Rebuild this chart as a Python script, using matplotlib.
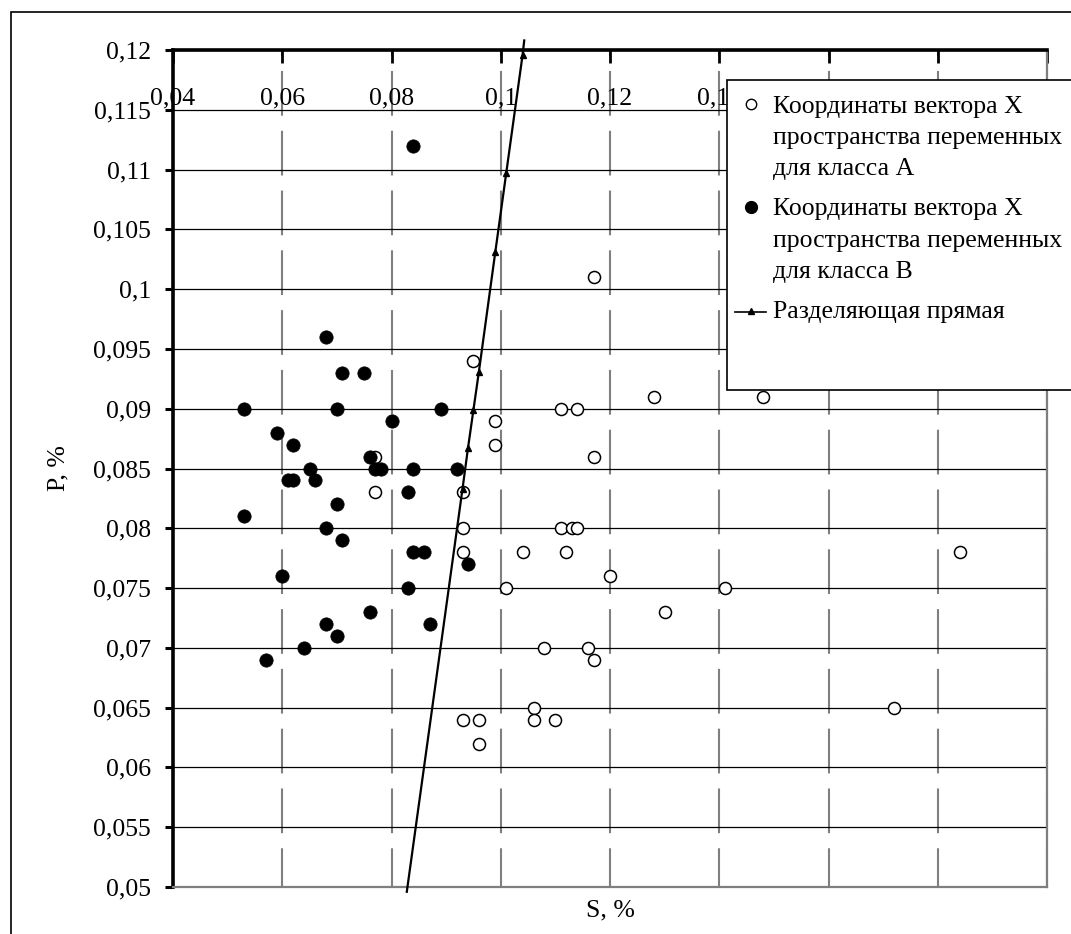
"""Scatter of class A / class B feature vectors with the separating line."""

import matplotlib
import numpy as np

matplotlib.use("Agg")
import matplotlib.pyplot as plt
from matplotlib.lines import Line2D
from matplotlib.patches import Rectangle
from matplotlib.ticker import FuncFormatter

plt.rcParams["font.family"] = ["Liberation Serif", "DejaVu Serif"]
plt.rcParams["lines.scale_dashes"] = False

# class A (open circles): S, %  /  P, %
class_a_s = [0.117, 0.095, 0.099, 0.099, 0.111, 0.114, 0.117, 0.128, 0.148,
             0.077, 0.077, 0.093, 0.093, 0.111, 0.113, 0.114, 0.093, 0.104,
             0.112, 0.120, 0.101, 0.141, 0.130, 0.108, 0.116, 0.117, 0.106,
             0.093, 0.096, 0.106, 0.110, 0.096, 0.184, 0.172]
class_a_p = [0.101, 0.094, 0.089, 0.087, 0.090, 0.090, 0.086, 0.091, 0.091,
             0.086, 0.083, 0.083, 0.080, 0.080, 0.080, 0.080, 0.078, 0.078,
             0.078, 0.076, 0.075, 0.075, 0.073, 0.070, 0.070, 0.069, 0.065,
             0.064, 0.064, 0.064, 0.064, 0.062, 0.078, 0.065]

# class B (filled circles)
class_b_s = [0.084, 0.068, 0.071, 0.075, 0.053, 0.070, 0.089, 0.080, 0.059,
             0.062, 0.076, 0.065, 0.077, 0.078, 0.084, 0.092, 0.061, 0.062,
             0.066, 0.083, 0.070, 0.053, 0.068, 0.071, 0.060, 0.084, 0.086,
             0.094, 0.083, 0.076, 0.068, 0.087, 0.070, 0.064, 0.057]
class_b_p = [0.112, 0.096, 0.093, 0.093, 0.090, 0.090, 0.090, 0.089, 0.088,
             0.087, 0.086, 0.085, 0.085, 0.085, 0.085, 0.085, 0.084, 0.084,
             0.084, 0.083, 0.082, 0.081, 0.080, 0.079, 0.076, 0.078, 0.078,
             0.077, 0.075, 0.073, 0.072, 0.072, 0.071, 0.070, 0.069]

# separating line (end points carry no marker)
line_s = [0.0828, 0.093, 0.094, 0.095, 0.096, 0.099, 0.101, 0.104, 0.1043]
line_p = [0.0496, 0.0833, 0.0867, 0.0899, 0.0931, 0.1031, 0.1097, 0.1196, 0.1208]

x_ticks = [0.04, 0.06, 0.08, 0.10, 0.12, 0.14, 0.16, 0.18, 0.20]
y_ticks = [0.05, 0.055, 0.06, 0.065, 0.07, 0.075, 0.08, 0.085, 0.09,
           0.095, 0.10, 0.105, 0.11, 0.115, 0.12]

legend_labels = [
    "Координаты вектора X\nпространства переменных\nдля класса А",
    "Координаты вектора X\nпространства переменных\nдля класса В",
    "Разделяющая прямая",
]

W, H = 1071, 934
FS = 18.5


def fx(px):
    return px / W


def fy(py):
    return 1 - py / H


def comma(v, _pos=None):
    return f"{v:g}".replace(".", ",")


fig = plt.figure(figsize=(W / 100, H / 100), dpi=100)
ax = fig.add_axes([fx(173), fy(887), fx(1047) - fx(173), fy(50) - fy(887)])

ax.scatter(class_a_s, class_a_p, s=75, facecolor="white", edgecolor="black",
           linewidth=1.1, zorder=3)
ax.scatter(class_b_s, class_b_p, s=92, facecolor="black", edgecolor="black",
           linewidth=0.5, zorder=3)
ax.plot(line_s, line_p, color="black", lw=1.6, marker="^", markersize=4.5,
        markevery=list(range(1, len(line_s) - 1)), clip_on=False, zorder=4)

ax.set_xlim(0.04, 0.20)
ax.set_ylim(0.05, 0.12)
ax.set_xticks(x_ticks)
ax.set_yticks(y_ticks)
ax.xaxis.set_major_formatter(FuncFormatter(comma))
ax.yaxis.set_major_formatter(FuncFormatter(comma))

ax.tick_params(axis="x", bottom=False, top=True, labelbottom=False, labeltop=True,
               direction="in", length=9, width=2, pad=-42.5, labelsize=FS)
ax.tick_params(axis="y", direction="out", length=6, width=2.2, pad=10, labelsize=FS)

ax.set_axisbelow(True)
ax.yaxis.grid(True, color="black", lw=0.9)
# long-dash vertical grid, one dash per horizontal band
ax.xaxis.grid(True, color="#7f7f7f", lw=1.5, linestyle=(4.3, (32.2, 10.85)))

for side in ("top", "left"):
    ax.spines[side].set_linewidth(2.6)
    ax.spines[side].set_color("black")
for side in ("bottom", "right"):
    ax.spines[side].set_linewidth(1.6)
    ax.spines[side].set_color("#7f7f7f")

ax.set_ylabel("P, %", fontsize=FS)
ax.yaxis.set_label_coords(-0.118, 0.5)
ax.set_xlabel("S, %", fontsize=FS)
ax.xaxis.set_label_coords(0.5, -0.015)

# outer chart frame
fig.add_artist(Rectangle((fx(11), -0.1), 1.2, fy(12) + 0.1, transform=fig.transFigure,
                         fill=False, edgecolor="black", lw=1.2, zorder=1))

# legend box running off the right edge
fig.add_artist(Rectangle((fx(727), fy(390)), 0.5, fy(80) - fy(390),
                         transform=fig.transFigure, facecolor="white",
                         edgecolor="black", lw=1.2, zorder=5))

fig.add_artist(Line2D([fx(751)], [fy(104)], transform=fig.transFigure, marker="o",
                      markersize=7.5, markerfacecolor="white", markeredgecolor="black",
                      markeredgewidth=1.0, linestyle="none", zorder=6))
fig.add_artist(Line2D([fx(751)], [fy(207)], transform=fig.transFigure, marker="o",
                      markersize=8.5, markerfacecolor="black", markeredgecolor="black",
                      linestyle="none", zorder=6))
fig.add_artist(Line2D([fx(735), fx(766)], [fy(312), fy(312)], transform=fig.transFigure,
                      color="black", lw=1.2, zorder=6))
fig.add_artist(Line2D([fx(751)], [fy(311)], transform=fig.transFigure, marker="^",
                      markersize=4.5, color="black", linestyle="none", zorder=6))

for label, yc in zip(legend_labels, [138, 240.5, 312]):
    fig.text(fx(773), fy(yc), label, fontsize=FS, ha="left", va="center",
             linespacing=1.55, zorder=7)

fig.savefig("out.png", dpi=100)
